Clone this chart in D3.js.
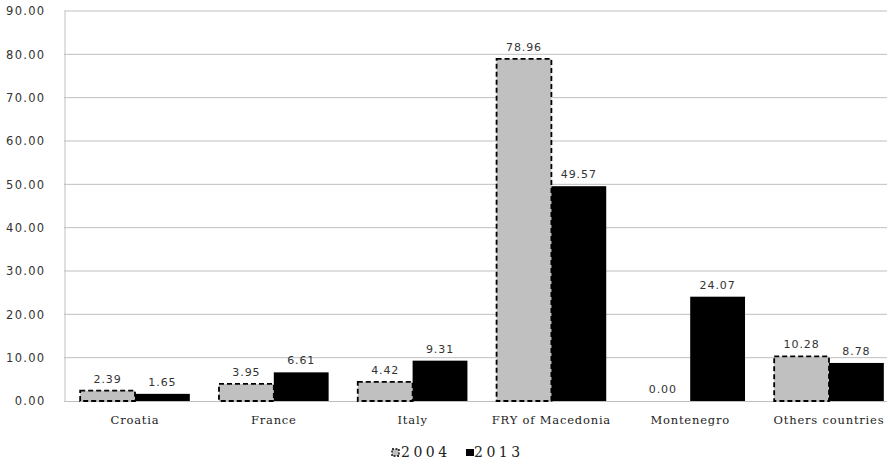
<!DOCTYPE html>
<html><head><meta charset="utf-8">
<script src="https://cdn.jsdelivr.net/npm/d3@7"></script>
<style>body{margin:0;background:#fff;} svg{display:block;}</style>
</head><body>
<svg id="c" width="887" height="466"></svg>
<script>
const categories = ["Croatia","France","Italy","FRY of Macedonia","Montenegro","Others countries"];
const series2004 = [2.39,3.95,4.42,78.96,0.00,10.28];
const series2013 = [1.65,6.61,9.31,49.57,24.07,8.78];
const seriesNames = ["2004","2013"];
const yTicks = [0,10,20,30,40,50,60,70,80,90];

const svg = d3.select("#c");
const x0 = d3.scaleBand().domain(categories).range([65.6, 898.4]).paddingInner(0.21).paddingOuter(0.105);
const x1 = d3.scaleBand().domain(seriesNames).range([0, x0.bandwidth()]);
const y = d3.scaleLinear().domain([0,90]).range([401, 11]);

// gridlines
svg.append("g").selectAll("line").data(yTicks.slice(1)).join("line")
  .attr("x1", 64).attr("x2", 887).attr("y1", d=>y(d)).attr("y2", d=>y(d))
  .attr("stroke", "#bfbfbf").attr("stroke-width", 1);

// y axis
const yAxis = d3.axisLeft(y).tickValues(yTicks).tickFormat(d3.format(".2f")).tickSize(0).tickPadding(19);
const ga = svg.append("g").attr("transform","translate(64.5,0)").call(yAxis);
ga.select(".domain").attr("stroke","#bfbfbf");
ga.selectAll("text").attr("font-family","DejaVu Sans").attr("font-size","11.5px").attr("fill","#333").attr("letter-spacing","1.3px");

// x axis
const xAxis = d3.axisBottom(x0).tickSize(0).tickPadding(14);
const gx = svg.append("g").attr("transform","translate(0,401.5)").call(xAxis);
gx.select(".domain").attr("d","M64,0H887").attr("stroke","#bfbfbf");
gx.selectAll("text").attr("font-family","DejaVu Serif").attr("font-size","11.5px").attr("fill","#222").attr("letter-spacing","0.8px");

const data = categories.map((c,i)=>({cat:c, vals:[{k:"2004",v:series2004[i]},{k:"2013",v:series2013[i]}]}));

const groups = svg.append("g").selectAll("g").data(data).join("g")
  .attr("transform", d=>`translate(${x0(d.cat)},0)`);

groups.selectAll("rect").data(d=>d.vals).join("rect")
  .attr("x", d=>x1(d.k)).attr("width", x1.bandwidth())
  .attr("y", d=>y(d.v)).attr("height", d=>y(0)-y(d.v))
  .attr("fill", d=>d.k==="2004" ? "#c0c0c0" : "#000")
  .attr("stroke", d=>d.k==="2004" && d.v>0 ? "#000" : "none")
  .attr("stroke-width", 1.8)
  .attr("stroke-dasharray", "5,3");

groups.selectAll("text").data(d=>d.vals).join("text")
  .attr("x", d=>x1(d.k)+x1.bandwidth()/2).attr("y", d=>y(d.v)-8)
  .attr("text-anchor","middle")
  .attr("font-family","DejaVu Sans").attr("font-size","11px").attr("fill","#333").attr("letter-spacing","0.9px")
  .text(d=>d3.format(".2f")(d.v));

// legend
const leg = svg.append("g").attr("transform","translate(392,457)");
leg.append("rect").attr("x",0).attr("y",-8).attr("width",7).attr("height",7).attr("fill","#c0c0c0")
  .attr("stroke","#000").attr("stroke-width",1.3).attr("stroke-dasharray","2,1.5");
leg.append("text").attr("x",9).attr("y",0).attr("font-family","DejaVu Serif").attr("font-size","14px").attr("fill","#222").attr("letter-spacing","3.5px").text(seriesNames[0]);
leg.append("rect").attr("x",74).attr("y",-8).attr("width",8).attr("height",7).attr("fill","#000");
leg.append("text").attr("x",82).attr("y",0).attr("font-family","DejaVu Serif").attr("font-size","14px").attr("fill","#222").attr("letter-spacing","3.5px").text(seriesNames[1]);
</script>
</body></html>
